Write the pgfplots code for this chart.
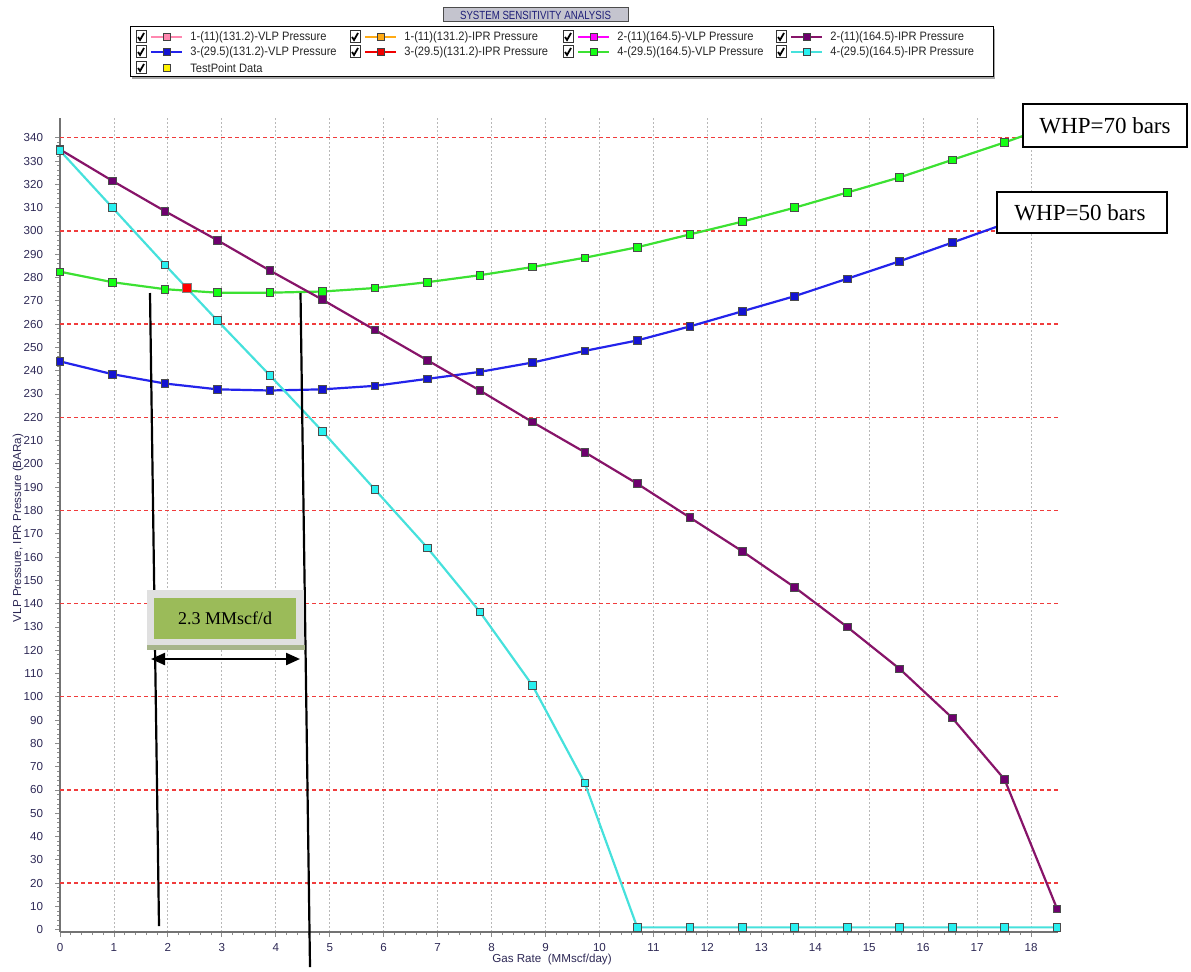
\documentclass[border=0pt]{standalone}
\usepackage{pgfplots}
\pgfplotsset{compat=1.18}
\usepackage{pgfplotstable}
\usepackage{fontspec}
\setmainfont{Liberation Sans}
\newfontfamily\annfont{Liberation Serif}
\usetikzlibrary{arrows.meta}

\definecolor{iprpurple}{RGB}{135,20,105}
\definecolor{iprpurplemk}{RGB}{110,0,110}
\definecolor{vlpblue}{RGB}{35,35,235}
\definecolor{vlpbluemk}{RGB}{20,20,210}
\definecolor{vlpgreen}{RGB}{60,225,50}
\definecolor{vlpgreenmk}{RGB}{20,255,20}
\definecolor{iprcyan}{RGB}{70,225,220}
\definecolor{iprcyanmk}{RGB}{40,240,240}
\definecolor{pinkser}{RGB}{255,135,175}
\definecolor{orangeser}{RGB}{255,170,20}
\definecolor{magser}{RGB}{255,0,255}
\definecolor{redser}{RGB}{240,0,0}
\definecolor{ticktext}{RGB}{45,40,85}
\definecolor{boxgreen}{RGB}{155,187,89}
\definecolor{titlebox}{RGB}{196,196,206}
\definecolor{titletext}{RGB}{30,30,120}
\definecolor{gridred}{RGB}{240,60,60}

% gas rate (MMscf/day), IPR/VLP pressures (BARa)
\pgfplotstableread{
x       iprb   vlpb   vlpg   iprc
0       335    244    282.5  334.5
0.9727  321.5  238.5  278    310
1.9455  308.5  234.5  275    285.5
2.9182  296    232    273.5  261.5
3.8909  283    231.5  273.5  238
4.8636  270.5  232    274    214
5.8364  257.5  233.5  275.5  189
6.8091  244.5  236.5  278    164
7.7818  231.5  239.5  281    136.5
8.7545  218    243.5  284.5  105
9.7273  205    248.5  288.5  63
10.7    191.5  253    293    1
11.6727 177    259    298.5  1
12.6455 162.5  265.5  304    1
13.6182 147    272    310    1
14.5909 130    279.5  316.5  1
15.5636 112    287    323    1
16.5364 91     295    330.5  1
17.5091 64.5   303    338    1
18.4818 9      311.5  346    1
}\sens

% legend entry: x, y, line colour, mark fill, text
\newcommand\legitem[5]{%
  \draw[black!80, line width=0.5bp, fill=white] (#1-5,#2-6) rectangle (#1+5,#2+6);
  \draw[black, line width=0.9bp] (#1-3,#2) -- (#1-1,#2+3) -- (#1+3,#2-4);
  \draw[#3, line width=1.2bp] (#1+10,#2) -- (#1+41,#2);
  \draw[black!75, line width=0.4bp, fill=#4] (#1+22,#2-3.5) rectangle (#1+29,#2+3.5);
  \node[anchor=west, inner sep=0pt, font=\fontsize{6.1bp}{6.5bp}\selectfont, text=black!85] at (#1+49,#2) {\scalebox{0.91}[1]{#5}};
}

\begin{document}
\begin{tikzpicture}
\begin{scope}[x=0.5bp,y=-0.5bp]
  \path[use as bounding box] (0,0) rectangle (1191,967);
\end{scope}

\begin{axis}[
  at={(30bp,-466bp)}, anchor=south west,
  scale only axis, width=499bp, height=407bp,
  xmin=0, xmax=18.5, ymin=-1, ymax=348.5,
  axis x line*=bottom, axis y line*=left,
  axis line style={-, black!55, line width=1.4bp},
  xtick={0,...,18}, ytick={0,10,...,340},
  minor x tick num=4, minor y tick num=4,
  tick align=outside,
  major tick length=2.5bp, minor tick length=1.5bp,
  tick style={black!45, line width=0.4bp},
  xmajorgrids,
  major grid style={black!28, line width=0.4bp, dash pattern=on 1bp off 1bp},
  /pgf/number format/assume math mode=true,
  ticklabel style={font=\fontsize{5.8bp}{6bp}\selectfont, text=ticktext},
  xticklabel style={yshift=0.5bp},
  yticklabel style={xshift=-2.5bp},
  clip=false,
]
  % red reference levels every 40 BARa
  \pgfplotsinvokeforeach{20,60,100,140,180,220,260,300,340}{
    \draw[gridred, line width=0.65bp, dash pattern=on 2bp off 1.5bp]
      (axis cs:0,#1) -- (axis cs:18.5,#1);
  }
  % VLP curves
  \addplot[vlpblue, line width=1.1bp, mark=square*, mark size=1.9bp,
    mark options={fill=vlpbluemk, draw=black!70, line width=0.4bp}]
    table[x=x, y=vlpb] {\sens};
  \addplot[vlpgreen, line width=1.1bp, mark=square*, mark size=1.9bp,
    mark options={fill=vlpgreenmk, draw=black!70, line width=0.4bp}]
    table[x=x, y=vlpg] {\sens};
  % IPR curves
  \addplot[iprpurple, line width=1.1bp, mark=square*, mark size=1.9bp,
    mark options={fill=iprpurplemk, draw=black!70, line width=0.4bp}]
    table[x=x, y=iprb] {\sens};
  \addplot[iprcyan, line width=1.1bp, mark=square*, mark size=1.9bp,
    mark options={fill=iprcyanmk, draw=black!70, line width=0.4bp}]
    table[x=x, y=iprc] {\sens};
  % operating point
  \addplot[only marks, mark=square*, mark size=2.4bp,
    mark options={fill=red, draw=black!50, line width=0.4bp}]
    coordinates {(2.35,275.5)};
\end{axis}

\begin{scope}[x=0.5bp,y=-0.5bp]
  % title
  \draw[black!70, line width=0.5bp, fill=titlebox] (443,8) rectangle (628,22);
  \node[font=\fontsize{5.9bp}{6bp}\selectfont, text=titletext, inner sep=0pt]
    at (535.5,15.5) {\scalebox{0.82}[1]{SYSTEM SENSITIVITY ANALYSIS}};
  % legend
  \fill[black!35] (132,29) rectangle (995,79);
  \draw[black, line width=0.5bp, fill=white] (130,27) rectangle (993,77);
  \legitem{141}{37}{pinkser}{pinkser}{1-(11)(131.2)-VLP Pressure}
  \legitem{355}{37}{orangeser}{orangeser}{1-(11)(131.2)-IPR Pressure}
  \legitem{568}{37}{magser}{magser}{2-(11)(164.5)-VLP Pressure}
  \legitem{781}{37}{iprpurple}{iprpurplemk}{2-(11)(164.5)-IPR Pressure}
  \legitem{141}{52}{vlpblue}{vlpbluemk}{3-(29.5)(131.2)-VLP Pressure}
  \legitem{355}{52}{redser}{redser}{3-(29.5)(131.2)-IPR Pressure}
  \legitem{568}{52}{vlpgreen}{vlpgreenmk}{4-(29.5)(164.5)-VLP Pressure}
  \legitem{781}{52}{iprcyan}{iprcyanmk}{4-(29.5)(164.5)-IPR Pressure}
  \draw[black!80, line width=0.5bp, fill=white] (136,62) rectangle (146,74);
  \draw[black, line width=0.9bp] (138,68) -- (140,71) -- (144,64);
  \draw[black!75, line width=0.4bp, fill=yellow] (163,64.5) rectangle (170,71.5);
  \node[anchor=west, inner sep=0pt, font=\fontsize{6.1bp}{6.5bp}\selectfont, text=black!85] at (190,68) {\scalebox{0.91}[1]{TestPoint Data}};

  % axis titles
  \node[font=\fontsize{5.8bp}{6bp}\selectfont, text=ticktext] at (552,959) {Gas Rate~~(MMscf/day)};
  \node[font=\fontsize{5.8bp}{6bp}\selectfont, text=ticktext, rotate=90] at (18,528) {VLP Pressure, IPR Pressure (BARa)};

  % rate window markers
  \draw[black, line width=1.1bp] (150,293) -- (159,926);
  \draw[black, line width=1.1bp] (300.5,293) -- (310,967);
  \fill[black!12] (147,590) rectangle (304,645);
  \fill[boxgreen!70!black!60] (147,645) rectangle (305,650);
  \fill[boxgreen] (154,598) rectangle (296,639);
  \node[font=\annfont\fontsize{9bp}{10bp}\selectfont] at (225,618.5) {2.3 MMscf/d};
  \draw[black, line width=1.1bp, {Triangle[length=7bp,width=6bp]}-{Triangle[length=7bp,width=6bp]}] (151,659) -- (300,659);

  % wellhead pressure tags
  \draw[black, line width=1bp, fill=white] (1023,104) rectangle (1187,147);
  \node[font=\annfont\fontsize{11.5bp}{12bp}\selectfont] at (1105,126) {WHP=70 bars};
  \draw[black, line width=1bp, fill=white] (997,192) rectangle (1167,233);
  \node[font=\annfont\fontsize{11.5bp}{12bp}\selectfont] at (1080,213) {WHP=50 bars};
\end{scope}
\end{tikzpicture}
\end{document}
